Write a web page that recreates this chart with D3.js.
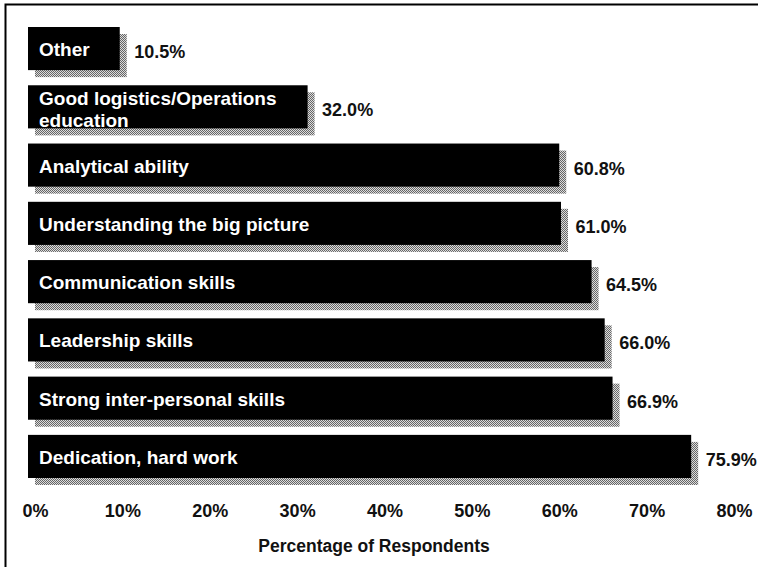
<!DOCTYPE html>
<html>
<head>
<meta charset="utf-8">
<script src="https://cdn.jsdelivr.net/npm/d3@7"></script>
<style>
  html, body { margin: 0; padding: 0; background: #fff; }
  svg { display: block; }
  text { font-family: "Liberation Sans", Arial, Helvetica, sans-serif; font-weight: bold; }
</style>
</head>
<body>
<svg id="chart" width="758" height="567"></svg>
<script>
const categories = [
  "Other",
  "Good logistics/Operations\neducation",
  "Analytical ability",
  "Understanding the big picture",
  "Communication skills",
  "Leadership skills",
  "Strong inter-personal skills",
  "Dedication, hard work"
];
const values = [10.5, 32.0, 60.8, 61.0, 64.5, 66.0, 66.9, 75.9];
const tickValues = [0, 10, 20, 30, 40, 50, 60, 70, 80];
const tickLabels = ["0%", "10%", "20%", "30%", "40%", "50%", "60%", "70%", "80%"];
const axisTitle = "Percentage of Respondents";

const svg = d3.select("#chart");
const W = 758, H = 567;

// frame (top and left edges)
svg.append("path")
  .attr("d", `M5.5,${H} L5.5,4.5 L${W},4.5`)
  .attr("fill", "none").attr("stroke", "#000").attr("stroke-width", 2);

// dithered shadow pattern
const defs = svg.append("defs");
const pat = defs.append("pattern").attr("id", "dither")
  .attr("width", 2).attr("height", 2).attr("patternUnits", "userSpaceOnUse");
pat.append("rect").attr("width", 2).attr("height", 2).attr("fill", "#dcdcdc");
pat.append("rect").attr("x", 0).attr("y", 0).attr("width", 1).attr("height", 1).attr("fill", "#666");
pat.append("rect").attr("x", 1).attr("y", 1).attr("width", 1).attr("height", 1).attr("fill", "#666");

const x = d3.scaleLinear().domain([0, 80]).range([28, 727]);
const y = d3.scaleBand().domain(categories).range([27, 478]).paddingInner(0.26).paddingOuter(0);

const data = categories.map((c, i) => ({ cat: c, val: values[i] }));
const off = 7;

// shadows
svg.append("g").selectAll("rect").data(data).join("rect")
  .attr("x", x(0) + off)
  .attr("y", d => y(d.cat) + off)
  .attr("width", d => x(d.val) - x(0))
  .attr("height", y.bandwidth())
  .attr("fill", "url(#dither)");

// bars
svg.append("g").selectAll("rect").data(data).join("rect")
  .attr("x", x(0))
  .attr("y", d => y(d.cat))
  .attr("width", d => x(d.val) - x(0))
  .attr("height", y.bandwidth())
  .attr("fill", "#000");

// category labels inside bars
const lab = svg.append("g").selectAll("text").data(data).join("text")
  .attr("fill", "#fff")
  .attr("font-size", 19)
  .attr("x", x(0) + 11);
lab.each(function (d) {
  const lines = d.cat.split("\n");
  const cy = y(d.cat) + y.bandwidth() / 2;
  const t = d3.select(this);
  if (lines.length === 1) {
    t.attr("y", cy + 7.5).text(lines[0]);
  } else {
    t.attr("y", cy - 1.5);
    lines.forEach((ln, k) => {
      t.append("tspan").attr("x", x(0) + 11).attr("dy", k === 0 ? 0 : 21.5).text(ln);
    });
  }
});

// value labels
svg.append("g").selectAll("text").data(data).join("text")
  .attr("x", d => x(d.val) + 14.5)
  .attr("y", d => y(d.cat) + y.bandwidth() / 2 + 9.5)
  .attr("font-size", 18)
  .attr("fill", "#111")
  .text(d => d.val.toFixed(1) + "%");

// x axis
const axis = d3.axisBottom(x).tickValues(tickValues)
  .tickFormat((d, i) => tickLabels[i]).tickSize(0).tickPadding(0);
const ag = svg.append("g").attr("transform", "translate(0,517)").call(axis);
ag.select(".domain").remove();
ag.selectAll("text")
  .attr("dy", 0).attr("y", 0).attr("dx", 7)
  .attr("font-size", 18)
  .attr("font-family", "Liberation Sans, Arial, sans-serif")
  .attr("font-weight", "bold")
  .attr("fill", "#111");

// axis title
svg.append("text")
  .attr("x", 374).attr("y", 552)
  .attr("text-anchor", "middle")
  .attr("font-size", 17.5)
  .attr("fill", "#111")
  .text(axisTitle);
</script>
</body>
</html>
